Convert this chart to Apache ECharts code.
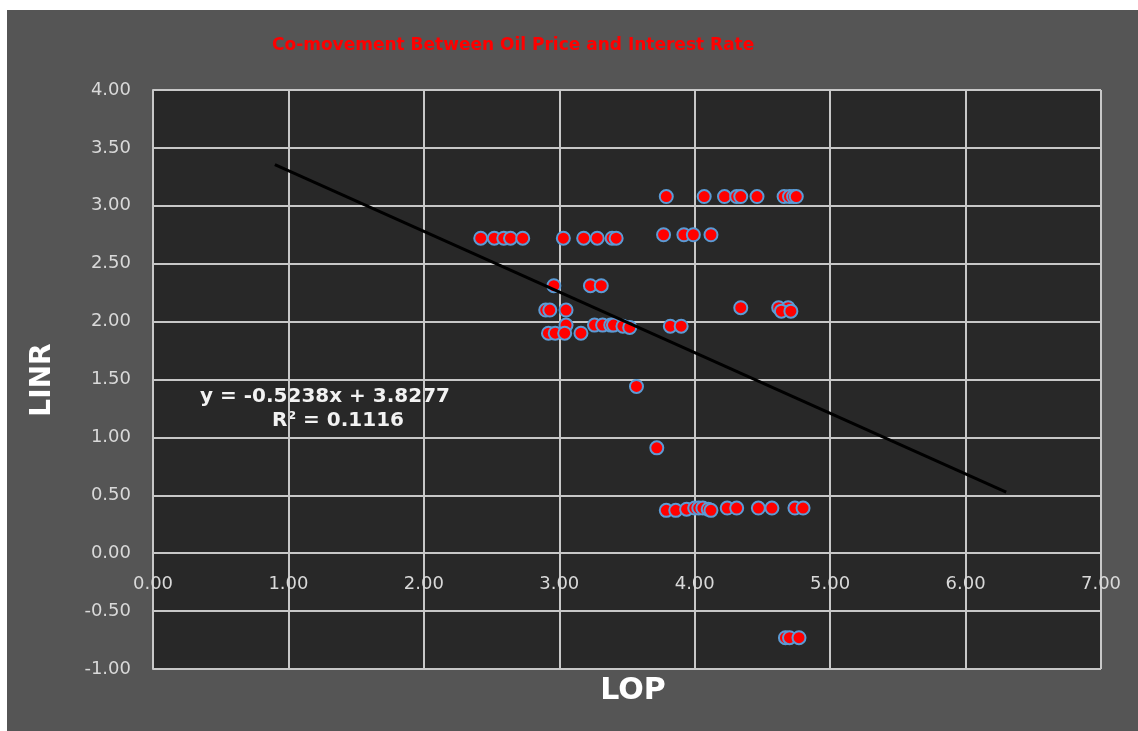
<!DOCTYPE html>
<html>
<head>
<meta charset="utf-8">
<script src="https://cdn.jsdelivr.net/npm/echarts@6/dist/echarts.min.js"></script>
<style>
html,body{margin:0;padding:0;background:#ffffff;width:1138px;height:731px;overflow:hidden;}
#c{position:absolute;left:7px;top:10px;width:1131px;height:721px;}
</style>
</head>
<body>
<div id="c"></div>
<script>
// Scatter data: LOP (x) and LINR (y)
const lop = [
  3.79, 4.07, 4.22, 4.31, 4.34, 4.46, 4.66, 4.70, 4.73, 4.75,
  3.77, 3.92, 3.99, 4.12,
  2.42, 2.52, 2.59, 2.64, 2.73, 3.03, 3.18, 3.28, 3.39, 3.42,
  2.96, 3.23, 3.31,
  2.90, 2.93, 3.05,
  4.34, 4.62, 4.69, 4.64, 4.71,
  3.05, 3.26, 3.32, 3.38, 3.40, 3.47, 3.52,
  3.82, 3.90,
  2.92, 2.97, 3.04, 3.16,
  3.57, 3.72,
  3.79, 3.86, 3.94, 4.00, 4.03, 4.06, 4.10, 4.12, 4.24, 4.31, 4.47, 4.57, 4.74, 4.80,
  4.67, 4.70, 4.77
];
const linr = [
  3.08, 3.08, 3.08, 3.08, 3.08, 3.08, 3.08, 3.08, 3.08, 3.08,
  2.75, 2.75, 2.75, 2.75,
  2.72, 2.72, 2.72, 2.72, 2.72, 2.72, 2.72, 2.72, 2.72, 2.72,
  2.31, 2.31, 2.31,
  2.10, 2.10, 2.10,
  2.12, 2.12, 2.12, 2.09, 2.09,
  1.97, 1.97, 1.97, 1.97, 1.97, 1.96, 1.95,
  1.96, 1.96,
  1.90, 1.90, 1.90, 1.90,
  1.44, 0.91,
  0.37, 0.37, 0.38, 0.39, 0.39, 0.39, 0.38, 0.37, 0.39, 0.39, 0.39, 0.39, 0.39, 0.39,
  -0.73, -0.73, -0.73
];
// Linear trendline (from the chart's label)
const slope = -0.5238;
const intercept = 3.8277;
const r2 = 0.1116;
const trendX = [0.9, 6.3];

const titleText = 'Co-movement Between Oil Price and Interest Rate';
const xName = 'LOP';
const yName = 'LINR';
const yMin = -1, yMax = 4;

const points = lop.map((x, i) => [x, linr[i]]);
const trend = trendX.map(x => [x, slope * x + intercept]);

const chart = echarts.init(document.getElementById('c'));
const font = 'DejaVu Sans';
const gridColor = '#c8c8c8';
const gridTop = 80, gridBottom = 62;
const plotH = 721 - gridTop - gridBottom;
// move the x axis (line + labels) up to y = 0, as in the original
const xOffset = -plotH * (0 - yMin) / (yMax - yMin);
chart.setOption({
  backgroundColor: '#555555',
  animation: false,
  textStyle: {fontFamily: font},
  grid: {left: 146, top: gridTop, right: 37, bottom: gridBottom, show: true, backgroundColor: '#282828', borderWidth: 0},
  xAxis: {
    type: 'value', min: 0, max: 7, interval: 1, offset: xOffset,
    axisLine: {show: true, onZero: false, lineStyle: {color: gridColor, width: 2}},
    axisTick: {show: false},
    splitLine: {show: true, lineStyle: {color: gridColor, width: 2}},
    axisLabel: {color: '#d9d9d9', fontSize: 18, fontFamily: font, margin: 22, formatter: v => v.toFixed(2)}
  },
  yAxis: {
    type: 'value', min: yMin, max: yMax, interval: 0.5,
    axisLine: {show: true, onZero: false, lineStyle: {color: gridColor, width: 2}},
    axisTick: {show: false},
    splitLine: {show: true, lineStyle: {color: gridColor, width: 2}},
    axisLabel: {color: '#d9d9d9', fontSize: 18, fontFamily: font, margin: 22, formatter: v => v.toFixed(2)}
  },
  series: [
    {
      type: 'scatter', data: points, symbol: 'circle', symbolSize: 13,
      itemStyle: {color: '#ff0000', borderColor: '#5b9bd5', borderWidth: 2, opacity: 1},
      z: 3
    },
    {
      type: 'line', data: trend, symbol: 'none', silent: true,
      lineStyle: {color: '#000000', width: 3}, z: 4
    }
  ],
  graphic: [
    {type: 'text', left: 265, top: 27, style: {text: titleText, fill: '#ff0000', font: 'bold 17px "DejaVu Sans"'}},
    {type: 'text', x: 626, y: 681, style: {text: xName, fill: '#ffffff', font: 'bold 30px "DejaVu Sans"', textAlign: 'center', textVerticalAlign: 'middle'}},
    {type: 'text', x: 36, y: 370, rotation: Math.PI / 2, style: {text: yName, fill: '#ffffff', font: 'bold 28px "DejaVu Sans"', textAlign: 'center', textVerticalAlign: 'middle'}},
    {type: 'text', x: 318, y: 387, style: {text: 'y = ' + slope.toFixed(4) + 'x + ' + intercept.toFixed(4), fill: '#f2f2f2', font: 'bold 20px "DejaVu Sans"', textAlign: 'center', textVerticalAlign: 'middle'}},
    {type: 'text', x: 331, y: 411, style: {text: 'R² = ' + r2.toFixed(4), fill: '#f2f2f2', font: 'bold 20px "DejaVu Sans"', textAlign: 'center', textVerticalAlign: 'middle'}}
  ]
});
</script>
</body>
</html>
